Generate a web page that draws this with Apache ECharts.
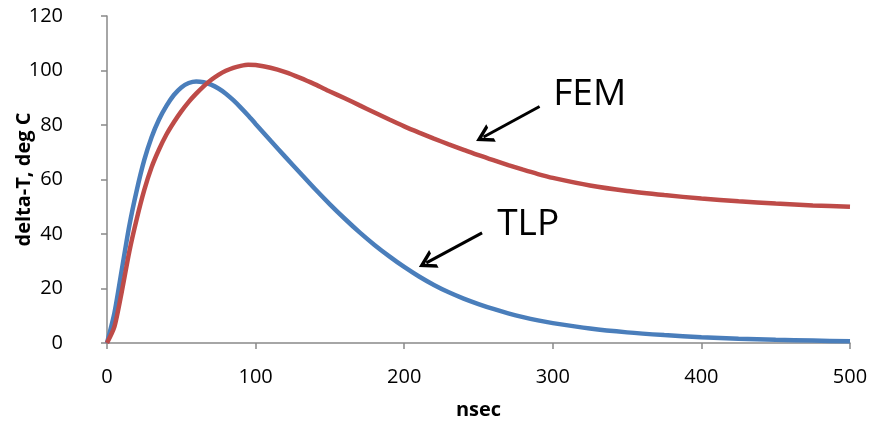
<!DOCTYPE html>
<html>
<head>
<meta charset="utf-8">
<script src="https://cdn.jsdelivr.net/npm/echarts@6/dist/echarts.min.js"></script>
<style>
  html,body{margin:0;padding:0;background:#fff;}
  #chart{width:870px;height:427px;}
</style>
</head>
<body>
<div id="chart"></div>
<script>
// time axis (nsec) and the two temperature curves
let ns  = [0, 5, 10, 15, 20, 25, 30, 35, 40, 45, 50, 55, 60, 65, 70, 75, 80, 85, 90, 95, 100,
           110, 120, 130, 140, 150, 160, 170, 180, 190, 200, 210, 220, 230, 240, 250, 260, 270, 280, 290, 300,
           325, 350, 375, 400, 425, 450, 475, 500]
let tlp = [0, 11, 27, 43, 56, 67, 75.5, 82, 87, 91, 93.8, 95.4, 96, 95.7, 94.8, 93.4, 91.5, 89.1, 86.4, 83.5, 80.4,
           74.3, 68.3, 62.4, 56.5, 50.9, 45.6, 40.6, 36, 31.8, 27.9, 24.4, 21.3, 18.6, 16.3, 14.3, 12.5, 10.9, 9.5, 8.3, 7.3,
           5.3, 3.9, 2.9, 2.1, 1.6, 1.2, 0.9, 0.6]
let fem = [0, 6, 19, 33.5, 45.5, 56, 64.5, 71, 76.5, 81, 85, 88.5, 91.5, 94.2, 96.5, 98.4, 99.9, 101, 101.7, 102.1, 102,
           101, 99.4, 97.3, 94.9, 92.3, 89.8, 87.2, 84.6, 82, 79.5, 77.2, 75, 72.9, 70.9, 68.9, 67.1, 65.3, 63.6, 62, 60.6,
           57.8, 55.8, 54.3, 53, 52, 51.2, 50.5, 50]
let xTicks = [0, 100, 200, 300, 400, 500]
let yTicks = [0, 20, 40, 60, 80, 100, 120]

// callouts: text anchor + arrow (from, to) in data units
let femNote = {text: 'FEM', at: [300.3, 91.3], from: [291.1, 86.8], to: [253.4, 75.6]}
let tlpNote = {text: 'TLP', at: [262.6, 43.4], from: [252.4, 40.4], to: [214.9, 29.4]}

let font = '"Open Sans", "Liberation Sans", sans-serif'
let axisGrey = '#898989'
// open "V" arrow head
let head = 'path://M0,10 L5,0 L10,10 L8,10 L5,4 L2,10 Z'

function pairs(xs, ys){
  let out = []
  for (let i = 0; i < xs.length; i++) out.push([xs[i], ys[i]])
  return out
}

function callout(n){
  return {
    markLine: {
      silent: true,
      symbol: ['none', head],
      symbolSize: [20, 17],
      lineStyle: {color: '#000', width: 3, type: 'solid'},
      label: {show: false},
      data: [[{coord: n.from}, {coord: n.to}]]
    },
    markPoint: {
      silent: true,
      symbol: 'circle',
      symbolSize: 0,
      label: {
        show: true, position: 'right', distance: 0,
        formatter: n.text, color: '#000', fontSize: 37, fontFamily: font
      },
      data: [{coord: n.at}]
    }
  }
}

let myChart = echarts.init(document.getElementById('chart'), null, {renderer: 'canvas'})

let option = {
  animation: false,
  backgroundColor: '#fff',
  grid: {left: 107, right: 20, top: 16, bottom: 84, containLabel: false, outerBoundsMode: 'none'},
  xAxis: {
    type: 'value', min: xTicks[0], max: xTicks[xTicks.length - 1], interval: 100,
    name: 'nsec', nameLocation: 'middle', nameGap: 57, nameMoveOverlap: false,
    nameTextStyle: {fontSize: 20, fontWeight: 'bold', color: '#000', fontFamily: font},
    axisLine: {lineStyle: {color: axisGrey, width: 1.5}},
    axisTick: {length: 6, lineStyle: {color: axisGrey, width: 1.5}},
    axisLabel: {fontSize: 20, color: '#000', fontFamily: font, margin: 24},
    splitLine: {show: false}
  },
  yAxis: {
    type: 'value', min: yTicks[0], max: yTicks[yTicks.length - 1], interval: 20,
    name: 'delta-T, deg C', nameLocation: 'middle', nameRotate: 90, nameGap: 73, nameMoveOverlap: false,
    nameTextStyle: {fontSize: 20, fontWeight: 'bold', color: '#000', fontFamily: font},
    axisLine: {show: true, lineStyle: {color: axisGrey, width: 1.5}},
    axisTick: {show: true, length: 6, lineStyle: {color: axisGrey, width: 1.5}},
    axisLabel: {fontSize: 20, color: '#000', fontFamily: font, margin: 44},
    splitLine: {show: false}
  },
  series: [
    Object.assign({
      name: 'TLP', type: 'line', smooth: 0.25, showSymbol: false,
      data: pairs(ns, tlp),
      lineStyle: {color: '#4A7EBB', width: 4.5},
      itemStyle: {color: '#4A7EBB'}
    }, callout(tlpNote)),
    Object.assign({
      name: 'FEM', type: 'line', smooth: 0.25, showSymbol: false,
      data: pairs(ns, fem),
      lineStyle: {color: '#BE4B48', width: 4.5},
      itemStyle: {color: '#BE4B48'}
    }, callout(femNote))
  ]
}

myChart.setOption(option)
</script>
</body>
</html>
